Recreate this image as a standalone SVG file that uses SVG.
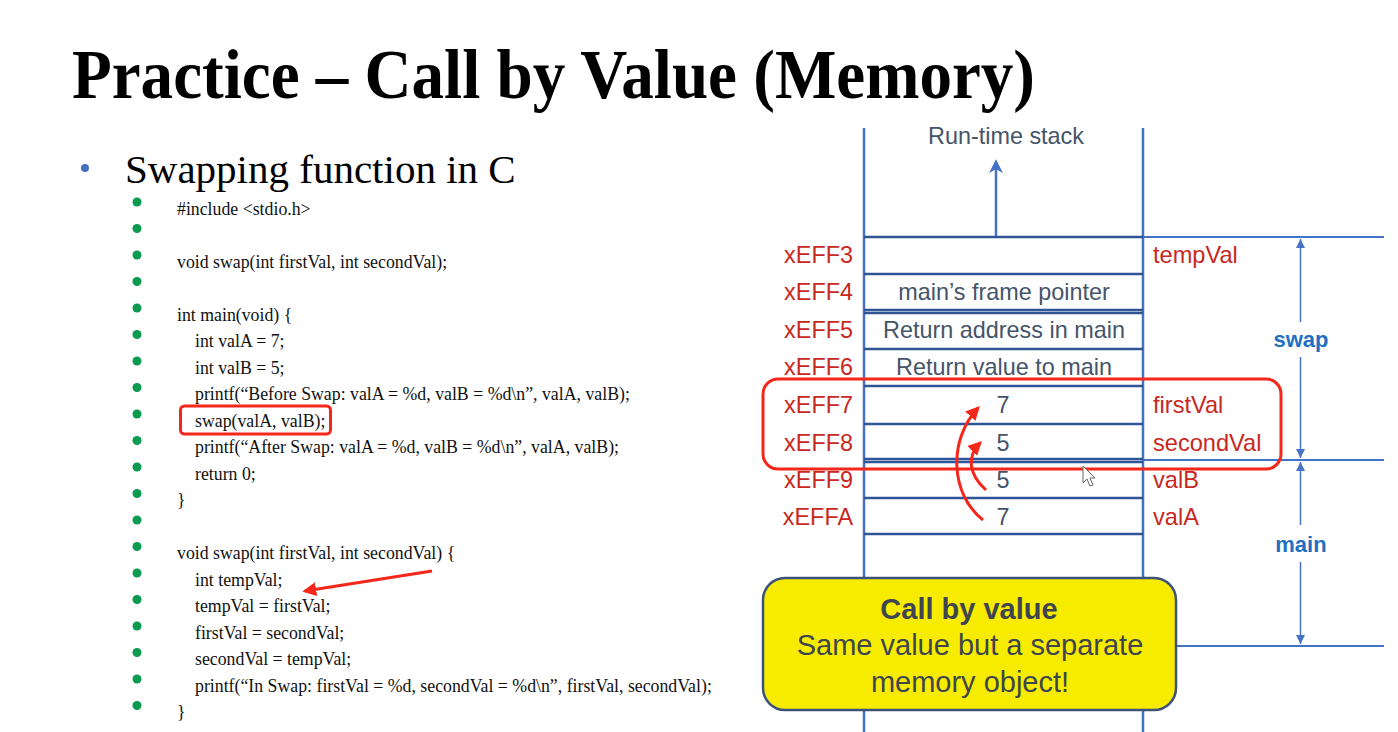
<svg xmlns="http://www.w3.org/2000/svg" width="1398" height="732" viewBox="0 0 1398 732">
<style>
.code{font-family:"Liberation Serif","Times New Roman",serif;font-size:17.8px;fill:#111}
.addr{font-family:"Liberation Sans",Arial,sans-serif;font-size:23.4px;fill:#c8281e;text-anchor:end}
.var{font-family:"Liberation Sans",Arial,sans-serif;font-size:23.6px;fill:#c8281e}
.cell{font-family:"Liberation Sans",Arial,sans-serif;font-size:23.4px;fill:#44546a;text-anchor:middle}
.dim{font-family:"Liberation Sans",Arial,sans-serif;font-size:22px;font-weight:bold;fill:#1f70c1;text-anchor:middle}
.gb{fill:#0a9a50}
.row{stroke:#2f5597;stroke-width:2.5}
.vline{stroke:#4472c4;stroke-width:2.5}
.ext{stroke:#4472c4;stroke-width:2}
.dl{stroke:#4472c4;stroke-width:1.5;fill:none}
.red{stroke:#f5261a;stroke-width:3;fill:none}
.co{font-family:"Liberation Sans",Arial,sans-serif;font-size:29px;fill:#3f4550;text-anchor:middle}
</style>
<defs>
<marker id="ra" viewBox="0 0 10 10" refX="8" refY="5" markerWidth="14" markerHeight="14" markerUnits="userSpaceOnUse" orient="auto">
<path d="M0,0 L10,5 L0,10 z" fill="#f5261a"/>
</marker>
<marker id="ba" viewBox="0 0 10 10" refX="8" refY="5" markerWidth="14" markerHeight="16" markerUnits="userSpaceOnUse" orient="auto">
<path d="M0,0 L10,5 L0,10 L3,5 z" fill="#4472c4"/>
</marker>
<marker id="da" viewBox="0 0 10 10" refX="10" refY="5" markerWidth="10" markerHeight="9" markerUnits="userSpaceOnUse" orient="auto">
<path d="M0,0 L10,5 L0,10 z" fill="#4472c4"/>
</marker>
</defs>
<rect width="1398" height="732" fill="#ffffff"/>

<g id="title">
<text x="72" y="98" font-family="Liberation Serif,'Times New Roman',serif" font-size="70" font-weight="bold" fill="#000" textLength="963" lengthAdjust="spacingAndGlyphs">Practice – Call by Value (Memory)</text>
</g>

<g id="heading">
<circle cx="85" cy="168" r="4" fill="#4472c4"/>
<text x="125" y="183" font-family="Liberation Serif,'Times New Roman',serif" font-size="41" fill="#000">Swapping function in C</text>
</g>

<g id="code">
<g class="gb">
<circle cx="137" cy="202" r="4.5"/><circle cx="137" cy="228.5" r="4.5"/><circle cx="137" cy="255" r="4.5"/><circle cx="137" cy="281.5" r="4.5"/><circle cx="137" cy="308" r="4.5"/><circle cx="137" cy="334.5" r="4.5"/><circle cx="137" cy="361" r="4.5"/><circle cx="137" cy="387.5" r="4.5"/><circle cx="137" cy="414" r="4.5"/><circle cx="137" cy="440.5" r="4.5"/><circle cx="137" cy="467" r="4.5"/><circle cx="137" cy="493.5" r="4.5"/><circle cx="137" cy="520" r="4.5"/><circle cx="137" cy="546.5" r="4.5"/><circle cx="137" cy="573" r="4.5"/><circle cx="137" cy="599.5" r="4.5"/><circle cx="137" cy="626" r="4.5"/><circle cx="137" cy="652.5" r="4.5"/><circle cx="137" cy="679" r="4.5"/><circle cx="137" cy="705.5" r="4.5"/>
</g>
<text class="code" x="177" y="215">#include &lt;stdio.h&gt;</text>
<text class="code" x="177" y="268">void swap(int firstVal, int secondVal);</text>
<text class="code" x="177" y="321">int main(void) {</text>
<text class="code" x="195" y="347">int valA = 7;</text>
<text class="code" x="195" y="374">int valB = 5;</text>
<text class="code" x="195" y="400">printf(“Before Swap: valA = %d, valB = %d\n”, valA, valB);</text>
<text class="code" x="195" y="427">swap(valA, valB);</text>
<text class="code" x="195" y="453">printf(“After Swap: valA = %d, valB = %d\n”, valA, valB);</text>
<text class="code" x="195" y="480">return 0;</text>
<text class="code" x="177" y="506">}</text>
<text class="code" x="177" y="559">void swap(int firstVal, int secondVal) {</text>
<text class="code" x="195" y="586">int tempVal;</text>
<text class="code" x="195" y="612">tempVal = firstVal;</text>
<text class="code" x="195" y="639">firstVal = secondVal;</text>
<text class="code" x="195" y="665">secondVal = tempVal;</text>
<text class="code" x="195" y="692">printf(“In Swap: firstVal = %d, secondVal = %d\n”, firstVal, secondVal);</text>
<text class="code" x="177" y="718">}</text>
<rect x="180.5" y="406" width="150" height="28" rx="4" class="red" stroke-width="2.5"/>
</g>

<g id="stack">
<line class="vline" x1="864" y1="128" x2="864" y2="732"/>
<line class="vline" x1="1143" y1="128" x2="1143" y2="732"/>
<text class="cell" x="1006" y="144" font-size="22.5" fill="#4a5568">Run-time stack</text>
<line class="row" x1="864" y1="237" x2="1143" y2="237"/>
<line class="row" x1="864" y1="274" x2="1143" y2="274"/>
<line class="row" x1="864" y1="310" x2="1143" y2="310"/>
<line class="row" x1="864" y1="313" x2="1143" y2="313"/>
<line class="row" x1="864" y1="349" x2="1143" y2="349"/>
<line class="row" x1="864" y1="386" x2="1143" y2="386" stroke-width="3.5"/>
<line class="row" x1="864" y1="424" x2="1143" y2="424"/>
<line class="row" x1="864" y1="459" x2="1143" y2="459"/>
<line class="row" x1="864" y1="462" x2="1143" y2="462" stroke="#4472c4"/>
<line class="row" x1="864" y1="498" x2="1143" y2="498"/>
<line class="row" x1="864" y1="534" x2="1143" y2="534"/>
</g>

<g id="connectors">
<line x1="996" y1="236" x2="996" y2="162" stroke="#4472c4" stroke-width="2.5" marker-end="url(#ba)"/>
<line class="ext" x1="1143" y1="237" x2="1384" y2="237"/>
<line class="ext" x1="1143" y1="460" x2="1384" y2="460"/>
<line class="ext" x1="1176" y1="646" x2="1384" y2="646"/>
<line class="dl" x1="1300.5" y1="322" x2="1300.5" y2="239" marker-end="url(#da)"/>
<line class="dl" x1="1300.5" y1="357" x2="1300.5" y2="458" marker-end="url(#da)"/>
<line class="dl" x1="1300.5" y1="525" x2="1300.5" y2="462" marker-end="url(#da)"/>
<line class="dl" x1="1300.5" y1="562" x2="1300.5" y2="644" marker-end="url(#da)"/>
<path class="red" d="M983,520 C950,494 948,440 978,408" marker-end="url(#ra)"/>
<path class="red" d="M986,490 C968,474 967,456 980,443" marker-end="url(#ra)"/>
<line class="red" x1="432" y1="571" x2="305" y2="591" stroke-width="2.5" marker-end="url(#ra)"/>
<rect x="763" y="379" width="518" height="90" rx="15" class="red" stroke-width="2.5"/>
</g>

<g id="labels">
<text class="addr" x="853" y="263">xEFF3</text>
<text class="addr" x="853" y="300">xEFF4</text>
<text class="addr" x="853" y="338">xEFF5</text>
<text class="addr" x="853" y="375">xEFF6</text>
<text class="addr" x="853" y="413">xEFF7</text>
<text class="addr" x="853" y="451">xEFF8</text>
<text class="addr" x="853" y="488">xEFF9</text>
<text class="addr" x="853" y="525">xEFFA</text>
<text class="cell" x="1004" y="300">main’s frame pointer</text>
<text class="cell" x="1004" y="338">Return address in main</text>
<text class="cell" x="1004" y="375">Return value to main</text>
<text class="cell" x="1003" y="413">7</text>
<text class="cell" x="1003" y="451">5</text>
<text class="cell" x="1003" y="488">5</text>
<text class="cell" x="1003" y="525">7</text>
<text class="var" x="1153" y="263">tempVal</text>
<text class="var" x="1153" y="413">firstVal</text>
<text class="var" x="1153" y="451">secondVal</text>
<text class="var" x="1153" y="488">valB</text>
<text class="var" x="1153" y="525">valA</text>
<text class="dim" x="1301" y="347">swap</text>
<text class="dim" x="1301" y="552">main</text>
</g>

<g id="callout">
<rect x="763" y="578" width="413" height="132" rx="22" fill="#f7ec00" stroke="#3c5278" stroke-width="2.5"/>
<text class="co" x="969" y="619" font-weight="bold">Call by value</text>
<text class="co" x="970" y="655">Same value but a separate</text>
<text class="co" x="970" y="692">memory object!</text>
</g>

<g id="cursor">
<path d="M1083,466 L1083,483 L1087,479 L1090,486 L1093,485 L1090,478 L1095,478 Z" fill="#ffffff" stroke="#666" stroke-width="1"/>
</g>
</svg>
